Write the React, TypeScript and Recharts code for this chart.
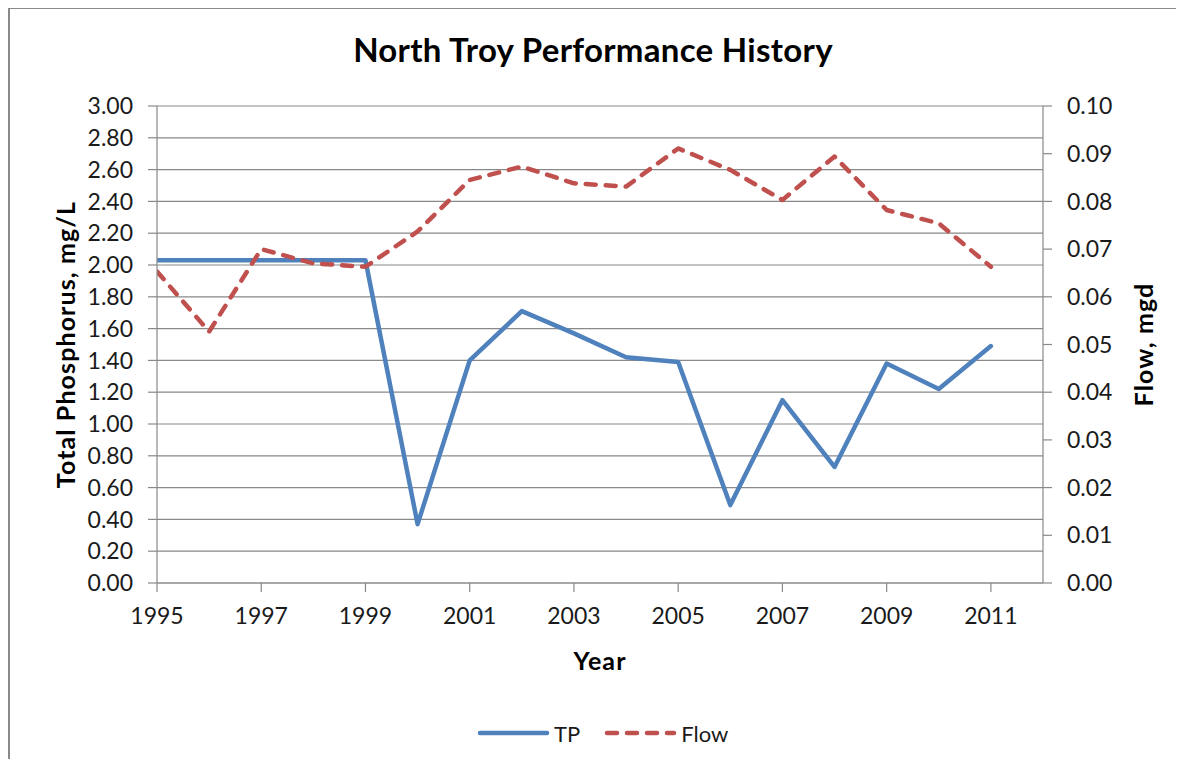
import React from 'react';
import { LineChart, Line, XAxis, YAxis, CartesianGrid, Legend } from 'recharts';

const years = [1995, 1996, 1997, 1998, 1999, 2000, 2001, 2002, 2003, 2004, 2005, 2006, 2007, 2008, 2009, 2010, 2011];
const tpValues = [2.03, 2.03, 2.03, 2.03, 2.03, 0.37, 1.4, 1.71, 1.57, 1.42, 1.39, 0.49, 1.15, 0.73, 1.38, 1.22, 1.49];
const flowValues = [0.0653, 0.0527, 0.07, 0.067, 0.0663, 0.0737, 0.0845, 0.0873, 0.0838, 0.0831, 0.0911, 0.0866, 0.0803, 0.0894, 0.0782, 0.0754, 0.0663];

const yearTicks = [1995, 1997, 1999, 2001, 2003, 2005, 2007, 2009, 2011];
const tpTicks = [0, 0.2, 0.4, 0.6, 0.8, 1.0, 1.2, 1.4, 1.6, 1.8, 2.0, 2.2, 2.4, 2.6, 2.8, 3.0];
const flowTicks = [0, 0.01, 0.02, 0.03, 0.04, 0.05, 0.06, 0.07, 0.08, 0.09, 0.1];
const legendOrder = ['TP', 'Flow'];

const data = years.map((year, i) => ({ year, TP: tpValues[i], Flow: flowValues[i] }));

const FONT = 'Lato, "Open Sans", sans-serif';
const GRID = '#898989';
const BLUE = '#4F81BD';
const RED = '#C0504D';

const tickStyle = { fill: '#1a1a1a', fontSize: 23, fontFamily: FONT };

const axisTitle = (text: string, x: number, y: number, rotate: boolean) => (
  <text
    x={x}
    y={y}
    transform={rotate ? `rotate(-90 ${x} ${y})` : undefined}
    textAnchor="middle"
    dominantBaseline="central"
    fontFamily={FONT}
    fontWeight={700}
    fontSize={25}
    letterSpacing={1.1}
    fill="#000"
  >
    {text}
  </text>
);

const LegendContent = ({ payload }: any) => {
  const items = [...(payload || [])].sort(
    (a: any, b: any) => legendOrder.indexOf(a.value) - legendOrder.indexOf(b.value)
  );
  return (
    <div style={{ display: 'flex', alignItems: 'center', height: 24, fontFamily: FONT, fontSize: 22, color: '#1a1a1a' }}>
      {items.map((entry: any) => (
        <div key={entry.value} style={{ display: 'flex', alignItems: 'center', marginRight: 24 }}>
          <svg width={73} height={10} style={{ marginRight: 4 }}>
            <line
              x1={3}
              y1={5}
              x2={70}
              y2={5}
              stroke={entry.color}
              strokeWidth={4.5}
              strokeLinecap="round"
              strokeDasharray={entry.payload?.strokeDasharray}
            />
          </svg>
          <span>{entry.value}</span>
        </div>
      ))}
    </div>
  );
};

export default function App() {
  return (
    <div
      style={{
        position: 'relative',
        marginTop: -1,
        width: 1174,
        height: 750,
        borderLeft: `2px solid ${GRID}`,
        borderTop: `2px solid ${GRID}`,
        background: '#fff',
        overflow: 'hidden',
      }}
    >
      <style>{'html, body { overflow: hidden; } #root { border: 0; outline: 0; }'}</style>
      <div
        style={{
          position: 'absolute',
          left: 0,
          width: 1166,
          top: 20,
          textAlign: 'center',
          fontFamily: FONT,
          fontWeight: 700,
          fontSize: 33,
          letterSpacing: 0.3,
          color: '#000',
        }}
      >
        North Troy Performance History
      </div>
      <LineChart width={1166} height={748} data={data} margin={{ top: 97, right: 0, bottom: 0, left: 0 }}>
        <CartesianGrid yAxisId="left" vertical={false} stroke={GRID} strokeWidth={1.2} />
        <XAxis
          dataKey="year"
          type="number"
          domain={[1995, 2012]}
          ticks={yearTicks}
          allowDataOverflow
          height={174}
          stroke={GRID}
          strokeWidth={1.2}
          tickSize={9}
          tickMargin={16}
          tick={tickStyle}
          label={(props: any) => {
            const vb = props.viewBox;
            return axisTitle('Year', vb.x + vb.width / 2, vb.y + 77, false);
          }}
        />
        <YAxis
          yAxisId="left"
          domain={[0, 3]}
          ticks={tpTicks}
          interval={0}
          width={147}
          stroke={GRID}
          strokeWidth={1.2}
          tickSize={9}
          tickMargin={15}
          tick={tickStyle}
          tickFormatter={(v: number) => v.toFixed(2)}
          label={(props: any) => {
            const vb = props.viewBox;
            return axisTitle('Total Phosphorus, mg/L', vb.x + 55, vb.y + vb.height / 2, true);
          }}
        />
        <YAxis
          yAxisId="right"
          orientation="right"
          domain={[0, 0.1]}
          ticks={flowTicks}
          interval={0}
          width={133}
          stroke={GRID}
          strokeWidth={1.2}
          tickSize={9}
          tickMargin={15}
          tick={tickStyle}
          tickFormatter={(v: number) => v.toFixed(2)}
          label={(props: any) => {
            const vb = props.viewBox;
            return axisTitle('Flow, mgd', vb.x + 100, vb.y + vb.height / 2, true);
          }}
        />
        <Legend
          layout="horizontal"
          verticalAlign="middle"
          align="center"
          wrapperStyle={{ top: 712, left: 467, width: 'auto' }}
          content={<LegendContent />}
        />
        <Line
          yAxisId="left"
          dataKey="TP"
          name="TP"
          stroke={BLUE}
          strokeWidth={4.5}
          strokeLinejoin="round"
          strokeLinecap="round"
          dot={false}
          activeDot={false}
          isAnimationActive={false}
        />
        <Line
          yAxisId="right"
          dataKey="Flow"
          name="Flow"
          stroke={RED}
          strokeWidth={4.5}
          strokeDasharray="10 10"
          strokeLinejoin="round"
          strokeLinecap="round"
          dot={false}
          activeDot={false}
          isAnimationActive={false}
        />
      </LineChart>
    </div>
  );
}
